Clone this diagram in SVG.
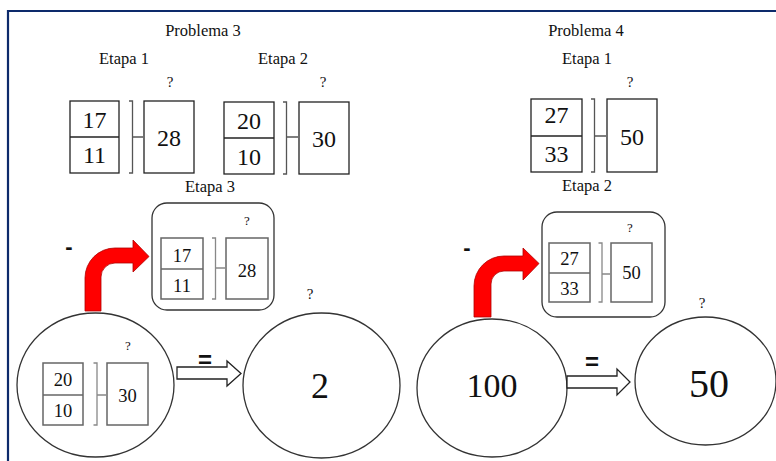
<svg xmlns="http://www.w3.org/2000/svg" width="776" height="461" viewBox="0 0 776 461">
<style>
  text { font-family: "Liberation Serif", "Times New Roman", serif; fill: #111; text-anchor: middle; }
  .lbl { font-size: 16.5px; }
  .q { font-size: 15px; }
  .qs { font-size: 13px; }
  .num { font-size: 24px; }
  .nums { font-size: 18.5px; }
  .box { fill: #fff; stroke: #222; stroke-width: 1.3; }
  .boxs { fill: #fff; stroke: #666; stroke-width: 1.5; }
  .br { fill: none; stroke: #555; stroke-width: 1.3; }
  .brs { fill: none; stroke: #888; stroke-width: 1.3; }
  .rbox { fill: #fff; stroke: #333; stroke-width: 1.3; }
  .ell { fill: #fff; stroke: #333; stroke-width: 1.3; }
  .red { fill: #ff0000; stroke: #b00000; stroke-width: 0.8; }
  .hollow { fill: #fff; stroke: #222; stroke-width: 1.3; }
  .sym { font-family: "Liberation Sans", Arial, sans-serif; font-weight: bold; }
</style>
<rect width="776" height="461" fill="#fff"/>
<g id="frame">
  <line x1="8" y1="11" x2="776" y2="11" stroke="#0d2a6b" stroke-width="2.2"/>
  <line x1="8" y1="10" x2="8" y2="461" stroke="#0d2a6b" stroke-width="2.2"/>
</g>

<g id="p3-title"><text class="lbl" x="203" y="36">Problema 3</text></g>
<g id="p3-etapa1-label"><text class="lbl" x="124" y="64">Etapa 1</text><text class="q" x="170" y="87">?</text></g>
<g id="p3-etapa2-label"><text class="lbl" x="283" y="64">Etapa 2</text><text class="q" x="323" y="87">?</text></g>

<g id="p3-e1">
  <rect class="box" x="70" y="101" width="49" height="72"/>
  <line class="box" x1="70" y1="137" x2="119" y2="137"/>
  <text class="num" x="94.5" y="128">17</text>
  <text class="num" x="94.5" y="163">11</text>
  <path class="br" d="M129 101 H132.5 V173 H129 M132.5 137 H143"/>
  <rect class="box" x="144" y="101" width="50" height="72"/>
  <text class="num" x="169" y="146">28</text>
</g>
<g id="p3-e2">
  <rect class="box" x="224" y="102" width="50" height="72"/>
  <line class="box" x1="224" y1="138" x2="274" y2="138"/>
  <text class="num" x="249" y="129">20</text>
  <text class="num" x="249" y="165">10</text>
  <path class="br" d="M283 102 H286.5 V174 H283 M286.5 137 H298"/>
  <rect class="box" x="299" y="102" width="50" height="72"/>
  <text class="num" x="324" y="147">30</text>
</g>

<g id="p3-etapa3-label"><text class="lbl" x="210" y="192">Etapa 3</text></g>
<g id="p3-e3-box">
  <rect class="rbox" x="152" y="203" width="122" height="107" rx="15" ry="15"/>
  <text class="qs" x="247" y="225">?</text>
  <rect class="boxs" x="161" y="238" width="42" height="61"/>
  <line class="boxs" x1="161" y1="269" x2="203" y2="269"/>
  <text class="nums" x="182" y="262">17</text>
  <text class="nums" x="182" y="292">11</text>
  <path class="brs" d="M212 238 H215.5 V299 H212 M215.5 268 H225"/>
  <rect class="boxs" x="226" y="238" width="42" height="61"/>
  <text class="nums" x="247" y="277">28</text>
</g>

<g id="p3-left-ellipse">
  <ellipse class="ell" cx="95.5" cy="385" rx="78.5" ry="72"/>
  <text class="qs" x="128" y="350">?</text>
  <rect class="boxs" x="43" y="363" width="40" height="62"/>
  <line class="boxs" x1="43" y1="395" x2="83" y2="395"/>
  <text class="nums" x="63" y="386">20</text>
  <text class="nums" x="63" y="417">10</text>
  <path class="brs" d="M93.5 363 H97 V425 H93.5 M97 395 H106"/>
  <rect class="boxs" x="107" y="363" width="41" height="62"/>
  <text class="nums" x="127.5" y="402">30</text>
</g>

<g id="p3-right-ellipse">
  <ellipse class="ell" cx="321.5" cy="385.5" rx="78.5" ry="72.5"/>
  <text class="q" x="310" y="299">?</text>
  <text x="320" y="398" style="font-size:36px">2</text>
</g>

<g id="p4-title"><text class="lbl" x="586" y="36">Problema 4</text></g>
<g id="p4-etapa1-label"><text class="lbl" x="587" y="64">Etapa 1</text><text class="q" x="630" y="87">?</text></g>
<g id="p4-e1">
  <rect class="box" x="531" y="99" width="51" height="73"/>
  <line class="box" x1="531" y1="136" x2="582" y2="136"/>
  <text class="num" x="556.5" y="123">27</text>
  <text class="num" x="556.5" y="162">33</text>
  <path class="br" d="M591 99 H594.5 V172 H591 M594.5 136 H606"/>
  <rect class="box" x="607" y="99" width="50" height="73"/>
  <text class="num" x="632" y="145">50</text>
</g>

<g id="p4-etapa2-label"><text class="lbl" x="587" y="191">Etapa 2</text></g>
<g id="p4-e2-box">
  <rect class="rbox" x="542" y="212" width="123" height="105" rx="15" ry="15"/>
  <text class="qs" x="630" y="232">?</text>
  <rect class="boxs" x="549" y="243" width="41" height="59"/>
  <line class="boxs" x1="549" y1="273" x2="590" y2="273"/>
  <text class="nums" x="569.5" y="265">27</text>
  <text class="nums" x="569.5" y="295">33</text>
  <path class="brs" d="M598.5 243 H602 V302 H598.5 M602 274 H610"/>
  <rect class="boxs" x="611" y="243" width="41" height="59"/>
  <text class="nums" x="631.5" y="279">50</text>
</g>

<g id="p4-left-ellipse">
  <ellipse class="ell" cx="492" cy="388" rx="75" ry="69"/>
  <text x="492" y="397" style="font-size:34px">100</text>
</g>
<g id="p4-right-ellipse">
  <ellipse class="ell" cx="705.5" cy="381" rx="70.5" ry="64"/>
  <text class="q" x="702" y="308">?</text>
  <text x="709" y="397" style="font-size:40px">50</text>
</g>

<g id="connectors">
  <path class="red" d="M85 311 V278 A30 30 0 0 1 115 248 H133 V240 L149 256.5 L133 272 V263 H115 A14 14 0 0 0 101 277 V311 Z"/>
  <text class="sym" x="69" y="254" style="font-size:22px">-</text>
  <path class="hollow" d="M177 367 H227 V361 L241 373.5 L227 386 V379 H177 Z"/>
  <text class="sym" x="205" y="368" style="font-size:24px">=</text>

  <path class="red" d="M474 317 V286 A30 30 0 0 1 504 256 H523 V248 L539 263.5 L523 280 V271 H504 A13 13 0 0 0 491 284 V317 Z"/>
  <text class="sym" x="467" y="255" style="font-size:22px">-</text>
  <path class="hollow" d="M567 376 H617 V369 L630 382 L617 395 V388 H567 Z"/>
  <text class="sym" x="592" y="370" style="font-size:24px">=</text>
</g>
</svg>
